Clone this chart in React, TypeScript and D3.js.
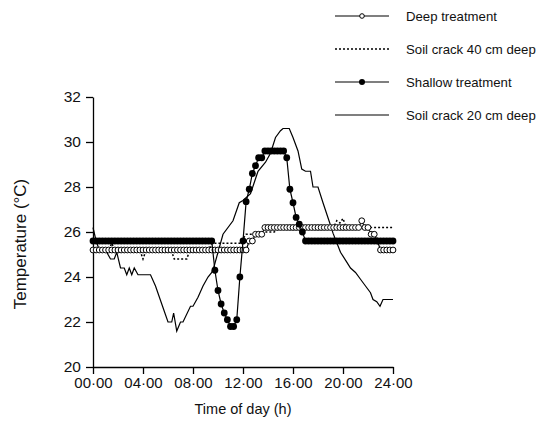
import React, { useEffect, useRef } from 'react';
import * as d3 from 'd3';

// treatments were logged every 15 min from 00:00 to 24:00 (97 readings)
const STEP_H = 0.25;

const deepTreatment = [
  25.2, 25.2, 25.2, 25.2, 25.2, 25.2, 25.2, 25.2, 25.2, 25.2, 25.2, 25.2,
  25.2, 25.2, 25.2, 25.2, 25.2, 25.2, 25.2, 25.2, 25.2, 25.2, 25.2, 25.2,
  25.2, 25.2, 25.2, 25.2, 25.2, 25.2, 25.2, 25.2, 25.2, 25.2, 25.2, 25.2,
  25.2, 25.2, 25.2, 25.2, 25.2, 25.2, 25.2, 25.2, 25.2, 25.2, 25.2, 25.2,
  25.2, 25.2, 25.6, 25.6, 25.9, 25.9, 25.9, 26.2, 26.2, 26.2, 26.2, 26.2,
  26.2, 26.2, 26.2, 26.2, 26.2, 26.2, 26.2, 26.2, 26.2, 26.2, 26.2, 26.2,
  26.2, 26.2, 26.2, 26.2, 26.2, 26.2, 26.2, 26.2, 26.2, 26.2, 26.2, 26.2,
  26.2, 26.2, 26.5, 26.2, 26.2, 25.9, 25.9, 25.6, 25.2, 25.2, 25.2, 25.2,
  25.2,
];

const shallowTreatment = [
  25.6, 25.6, 25.6, 25.6, 25.6, 25.6, 25.6, 25.6, 25.6, 25.6, 25.6, 25.6,
  25.6, 25.6, 25.6, 25.6, 25.6, 25.6, 25.6, 25.6, 25.6, 25.6, 25.6, 25.6,
  25.6, 25.6, 25.6, 25.6, 25.6, 25.6, 25.6, 25.6, 25.6, 25.6, 25.6, 25.6,
  25.6, 25.6, 25.6, 24.3, 23.4, 22.8, 22.4, 22.1, 21.8, 21.8, 22.1, 24.0,
  25.6, 27.35, 27.9, 28.6, 28.95, 29.3, 29.3, 29.6, 29.6, 29.6, 29.6, 29.6,
  29.6, 29.6, 29.3, 27.9, 27.3, 26.65, 26.35, 26.0, 25.6, 25.6, 25.6, 25.6,
  25.6, 25.6, 25.6, 25.6, 25.6, 25.6, 25.6, 25.6, 25.6, 25.6, 25.6, 25.6,
  25.6, 25.6, 25.6, 25.6, 25.6, 25.6, 25.6, 25.6, 25.6, 25.6, 25.6, 25.6,
  25.6,
];

// soil cracks: [hour, temperature]
const crack40 = [
  [0, 25.2], [1.25, 25.2], [1.5, 25.5], [1.75, 25.2], [3.75, 25.2], [4.0, 24.8],
  [4.25, 25.2], [6.25, 25.2], [6.5, 24.8], [7.5, 24.8], [7.75, 25.2], [9.25, 25.2],
  [9.5, 25.5], [11.75, 25.5], [12.25, 25.9], [13.0, 25.9], [13.5, 26.0], [14.5, 26.0],
  [15.0, 26.2], [19.25, 26.2], [19.5, 26.5], [19.75, 26.4], [20.0, 26.6], [20.25, 26.2],
  [24, 26.2],
];

const crack20 = [
  [0, 26.2], [0.25, 25.6], [0.5, 25.2], [1.0, 25.2], [1.4, 24.8], [1.7, 24.8],
  [1.9, 25.1], [2.2, 24.4], [2.5, 24.4], [2.7, 24.1], [2.9, 24.4], [3.1, 24.1],
  [3.3, 24.4], [3.6, 24.1], [3.8, 24.1], [4.6, 24.1], [5.0, 23.6], [5.5, 22.8],
  [6.0, 22.0], [6.3, 22.0], [6.45, 22.4], [6.7, 21.6], [7.0, 22.0], [7.2, 22.0],
  [7.8, 22.7], [8.0, 22.7], [8.4, 23.1], [8.8, 23.6], [9.2, 24.0], [9.5, 24.2],
  [9.7, 24.5], [10.0, 25.1], [10.4, 25.9], [11.2, 26.5], [11.7, 27.3], [12.0, 27.4],
  [12.6, 27.7], [13.2, 28.7], [13.8, 29.1], [14.2, 29.5], [14.6, 30.2], [15.0, 30.5],
  [15.2, 30.6], [15.7, 30.6], [16.0, 30.2], [16.4, 29.6], [16.7, 28.8], [17.0, 28.7],
  [17.4, 28.7], [17.6, 28.0], [18.0, 28.0], [18.4, 27.3], [19.0, 26.3], [19.2, 25.95],
  [19.8, 25.1], [20.2, 24.75], [20.6, 24.4], [21.0, 24.2], [21.4, 23.9], [21.8, 23.6],
  [22.2, 23.3], [22.4, 23.0], [22.7, 22.9], [22.96, 22.7], [23.2, 23.0], [24, 23.0],
];

const xTicks = [0, 4, 8, 12, 16, 20, 24];
const yTicks = [20, 22, 24, 26, 28, 30, 32];
const legendLabels = ['Deep treatment', 'Soil crack 40 cm deep', 'Shallow treatment', 'Soil crack 20 cm deep'];

const FONT = '"Liberation Sans", Arial, sans-serif';
const INK = '#111';

export default function App() {
  const ref = useRef<SVGSVGElement>(null);

  useEffect(() => {
    const svg = d3.select(ref.current);
    svg.selectAll('*').remove();

    const x = d3.scaleLinear().domain([0, 24]).range([93, 393]);
    const y = d3.scaleLinear().domain([20, 32]).range([367, 97]);

    const line = d3.line<number[]>().x(d => x(d[0])).y(d => y(d[1]));
    const deepPts = deepTreatment.map((v, i) => [i * STEP_H, v]);
    const shallowPts = shallowTreatment.map((v, i) => [i * STEP_H, v]);

    // axes
    const xAxis = svg.append('g')
      .attr('transform', `translate(0,${y(20)})`)
      .call(d3.axisBottom(x).tickValues(xTicks).tickSize(7).tickSizeOuter(0).tickPadding(3)
        .tickFormat(d => String(d).padStart(2, '0') + '·00'));
    const yAxis = svg.append('g')
      .attr('transform', `translate(${x(0)},0)`)
      .call(d3.axisLeft(y).tickValues(yTicks).tickSize(7).tickSizeOuter(0).tickPadding(5));
    [xAxis, yAxis].forEach(g => {
      g.attr('font-family', FONT).attr('font-size', 15);
      g.selectAll('path, line').attr('stroke', '#000').attr('stroke-width', 1.3);
      g.selectAll('text').attr('fill', INK);
    });
    yAxis.attr('font-size', 15.5);

    svg.append('text')
      .attr('transform', 'translate(26,244) rotate(-90)')
      .attr('text-anchor', 'middle')
      .attr('font-family', FONT).attr('font-size', 17).attr('fill', INK)
      .text('Temperature (°C)');
    svg.append('text')
      .attr('x', 243).attr('y', 414)
      .attr('text-anchor', 'middle')
      .attr('font-family', FONT).attr('font-size', 14.5).attr('fill', INK)
      .text('Time of day (h)');

    // soil crack lines
    svg.append('path').datum(crack20)
      .attr('d', line).attr('fill', 'none').attr('stroke', '#000').attr('stroke-width', 1.2);
    svg.append('path').datum(crack40)
      .attr('d', line).attr('fill', 'none').attr('stroke', '#000').attr('stroke-width', 1.5)
      .attr('stroke-dasharray', '2,2');

    // deep treatment (open circles)
    svg.append('path').datum(deepPts)
      .attr('d', line).attr('fill', 'none').attr('stroke', '#000').attr('stroke-width', 1.2);
    svg.append('g').selectAll('circle').data(deepPts).enter().append('circle')
      .attr('cx', d => x(d[0])).attr('cy', d => y(d[1])).attr('r', 2.9)
      .attr('fill', '#fff').attr('stroke', '#000').attr('stroke-width', 1);

    // shallow treatment (filled circles)
    svg.append('path').datum(shallowPts)
      .attr('d', line).attr('fill', 'none').attr('stroke', '#000').attr('stroke-width', 1.2);
    svg.append('g').selectAll('circle').data(shallowPts).enter().append('circle')
      .attr('cx', d => x(d[0])).attr('cy', d => y(d[1])).attr('r', 3.4)
      .attr('fill', '#000');

    // legend
    const lg = svg.append('g');
    legendLabels.forEach((label, i) => {
      const ly = 16 + i * 33;
      const row = lg.append('g');
      row.append('line')
        .attr('x1', 335).attr('x2', 389).attr('y1', ly).attr('y2', ly)
        .attr('stroke', '#000')
        .attr('stroke-width', i === 1 ? 1.5 : 1.2)
        .attr('stroke-dasharray', i === 1 ? '2,2' : null);
      if (i === 0) {
        row.append('circle').attr('cx', 362).attr('cy', ly).attr('r', 2.3)
          .attr('fill', '#fff').attr('stroke', '#000').attr('stroke-width', 1);
      }
      if (i === 2) {
        row.append('circle').attr('cx', 362).attr('cy', ly).attr('r', 3).attr('fill', '#000');
      }
      row.append('text')
        .attr('x', 406).attr('y', ly).attr('dy', '0.35em')
        .attr('font-family', FONT).attr('font-size', 13.2).attr('fill', INK)
        .text(label);
    });
  }, []);

  return (
    <svg ref={ref} width={539} height={428}
      style={{ position: 'absolute', left: 0, top: 0, background: '#fff', display: 'block' }} />
  );
}
